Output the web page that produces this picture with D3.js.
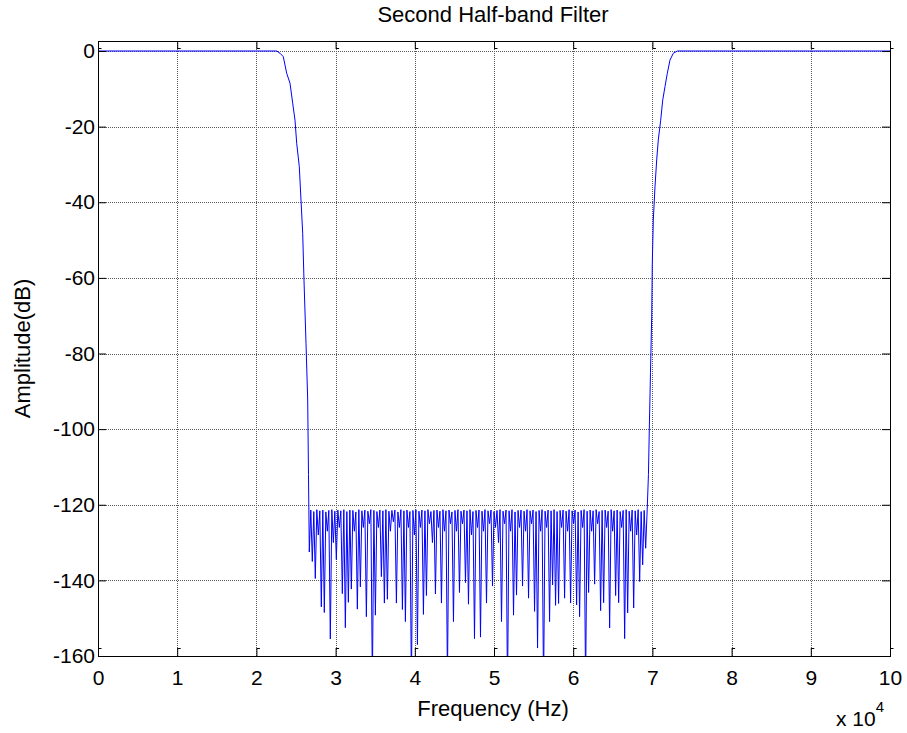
<!DOCTYPE html>
<html>
<head>
<meta charset="utf-8">
<script src="https://cdn.jsdelivr.net/npm/d3@7"></script>
<style>
  html, body { margin: 0; padding: 0; background: #fff; }
  svg { display: block; font-family: "Liberation Sans", Arial, Helvetica, sans-serif; }
</style>
</head>
<body>
<svg id="chart" width="907" height="733"></svg>
<script>
// ---------------- data ----------------
const titleText = "Second Half-band Filter";
const xLabelText = "Frequency (Hz)";
const yLabelText = "Amplitude(dB)";

const xTickValues = [0, 10000, 20000, 30000, 40000, 50000, 60000, 70000, 80000, 90000, 100000];
const xTickLabels = ["0", "1", "2", "3", "4", "5", "6", "7", "8", "9", "10"];
const yTickValues = [0, -20, -40, -60, -80, -100, -120, -140, -160];
const yTickLabels = ["0", "-20", "-40", "-60", "-80", "-100", "-120", "-140", "-160"];

// passband + falling transition (Hz, dB)
const leftHz = [0, 22563, 22980, 23396, 23826, 24242, 24583, 24874, 25088, 25417, 25631, 25846, 26010, 26263, 26477, 26578];
const leftDb = [0, 0, -0.6, -1.5, -5.9, -8.5, -13.8, -18.3, -24.4, -30.6, -39.4, -48.2, -60.6, -77.3, -92.3, -112.0];

// stopband samples on a uniform frequency grid
const stopStartHz = 26680;
const stopStepHz = 189.6;
const stopDb = [
  -132.5,-121.4, -135.0,-121.8, -139.5,-121.3, -128.0,-121.6, -147.0,-121.4, -148.5,-121.9, -127.0,-121.5, -155.5,-121.3, -130.0,-121.7, -134.5,-121.4,
  -126.0,-121.6, -143.5,-121.3, -152.5,-121.8, -145.8,-121.4, -142.3,-121.5, -127.0,-121.9, -147.6,-121.3, -141.7,-121.6, -126.0,-121.4, -149.6,-121.7,
  -125.0,-121.3, -168.0,-121.5, -149.2,-121.8, -126.0,-121.4, -139.0,-121.6, -146.0,-121.3, -145.0,-121.7, -127.0,-121.5, -124.5,-121.4, -146.0,-121.9,
  -126.0,-121.3, -147.7,-121.6, -150.9,-121.4, -126.0,-121.8, -168.0,-121.5, -128.0,-121.3, -157.0,-121.7, -126.0,-121.4, -149.0,-121.6, -144.0,-121.3,
  -125.0,-121.8, -130.0,-121.5, -143.6,-121.4, -126.0,-121.7, -146.0,-121.3, -127.0,-121.6, -166.0,-121.4, -125.0,-121.9, -150.9,-121.5, -127.0,-121.3,
  -143.2,-121.7, -125.0,-121.4, -140.6,-121.6, -146.3,-121.3, -128.0,-121.8, -155.4,-121.5, -126.0,-121.4, -155.0,-121.7, -127.0,-121.3, -146.0,-121.6,
  -125.0,-121.4, -141.5,-121.8, -126.0,-121.5, -130.0,-121.3, -150.9,-121.7, -125.0,-121.4, -170.0,-121.6, -127.0,-121.3, -149.2,-121.9, -143.9,-121.5,
  -126.0,-121.4, -141.5,-121.7, -127.0,-121.3, -144.7,-121.6, -125.0,-121.4, -148.2,-121.8, -157.9,-121.5, -127.0,-121.3, -169.0,-121.7, -126.0,-121.4,
  -150.9,-121.6, -141.2,-121.3, -146.6,-121.8, -146.1,-121.5, -126.0,-121.4, -144.7,-121.7, -127.0,-121.3, -146.0,-121.6, -125.0,-121.4, -146.5,-121.9,
  -149.6,-121.5, -126.0,-121.3, -168.0,-121.7, -143.2,-121.4, -127.0,-121.6, -141.0,-121.3, -125.0,-121.8, -148.0,-121.5, -145.9,-121.4, -126.0,-121.7,
  -152.6,-121.3, -127.0,-121.6, -144.0,-121.4, -145.9,-121.8, -126.0,-121.5, -155.4,-121.3, -148.6,-121.7, -127.0,-121.4, -147.3,-121.6, -128.0,-121.3,
  -140.3,-121.8, -135.9,-121.5, -131.5,-121.4
];

// rising transition + upper passband (Hz, dB)
const rightHz = [69500, 69609, 69760, 69912, 69987, 70114, 70328, 70543, 70745, 71048, 71301, 71591, 71881, 72222, 72639, 73144, 100000];
const rightDb = [-112.0, -100.0, -85.0, -70.3, -56.2, -44.7, -35.9, -28.8, -23.5, -18.3, -13.0, -9.4, -5.9, -2.4, -0.6, 0, 0];

// ---------------- layout ----------------
const plot = { left: 98, right: 890, top: 41, bottom: 656 };
const xDomain = [0, 100000];
const yDomain = [-160, 2.645];
const font = "\"Liberation Sans\", Arial, Helvetica, sans-serif";

const svg = d3.select("#chart");

const x = d3.scaleLinear().domain(xDomain).range([plot.left, plot.right]);
const y = d3.scaleLinear().domain(yDomain).range([plot.bottom, plot.top]);

// assemble series
const points = [];
leftHz.forEach((f, i) => points.push([f, leftDb[i]]));
stopDb.forEach((v, i) => points.push([stopStartHz + i * stopStepHz, v]));
rightHz.forEach((f, i) => points.push([f, rightDb[i]]));

// clip
svg.append("defs").append("clipPath").attr("id", "clip")
  .append("rect")
  .attr("x", plot.left).attr("y", plot.top)
  .attr("width", plot.right - plot.left).attr("height", plot.bottom - plot.top);

// grid
const grid = svg.append("g").attr("class", "grid");
grid.selectAll("line.gx").data(xTickValues.slice(1, -1)).join("line")
  .attr("class", "gx")
  .attr("x1", d => Math.round(x(d)) + 0.5).attr("x2", d => Math.round(x(d)) + 0.5)
  .attr("y1", plot.top).attr("y2", plot.bottom)
  .attr("stroke", "#5a5a5a").attr("stroke-width", 1).attr("stroke-dasharray", "1,1");
grid.selectAll("line.gy").data(yTickValues.filter(v => v !== -160)).join("line")
  .attr("class", "gy")
  .attr("y1", d => Math.round(y(d)) + 0.5).attr("y2", d => Math.round(y(d)) + 0.5)
  .attr("x1", plot.left).attr("x2", plot.right)
  .attr("stroke", "#5a5a5a").attr("stroke-width", 1).attr("stroke-dasharray", "1,1");

// data line
const line = d3.line().x(d => x(d[0])).y(d => y(d[1]));
svg.append("path")
  .datum(points)
  .attr("clip-path", "url(#clip)")
  .attr("fill", "none")
  .attr("stroke", "#0000ff")
  .attr("stroke-width", 1)
  .attr("d", line);

// axes (MATLAB style inward ticks)
const tickLen = 8;
const tickFont = "21px";
const xAxisB = d3.axisBottom(x).tickValues(xTickValues)
  .tickFormat((d, i) => xTickLabels[i]).tickSize(-tickLen).tickPadding(14);
const xAxisT = d3.axisTop(x).tickValues(xTickValues).tickFormat("").tickSize(-tickLen);
const yAxisL = d3.axisLeft(y).tickValues(yTickValues)
  .tickFormat((d, i) => yTickLabels[i]).tickSize(-tickLen).tickPadding(3);
const yAxisR = d3.axisRight(y).tickValues(yTickValues).tickFormat("").tickSize(-tickLen);

function styleAxis(g) {
  g.select(".domain").remove();
  g.selectAll(".tick line").attr("stroke", "#000").attr("stroke-width", 1);
  g.selectAll(".tick text").attr("fill", "#000").style("font-family", font).style("font-size", tickFont);
}
const gB = svg.append("g").attr("transform", `translate(0,${plot.bottom})`).call(xAxisB).call(styleAxis);
const gT = svg.append("g").attr("transform", `translate(0,${plot.top})`).call(xAxisT).call(styleAxis);
svg.append("g").attr("transform", `translate(${plot.left},0)`).call(yAxisL).call(styleAxis);
svg.append("g").attr("transform", `translate(${plot.right},0)`).call(yAxisR).call(styleAxis);

// small MATLAB-like stubs at the tips of the x ticks
gB.selectAll(".tick").append("line")
  .attr("x1", 0).attr("x2", 3).attr("y1", -tickLen + 0.5).attr("y2", -tickLen + 0.5)
  .attr("stroke", "#000").attr("stroke-width", 1);
gT.selectAll(".tick").append("line")
  .attr("x1", 0).attr("x2", 3).attr("y1", tickLen - 0.5).attr("y2", tickLen - 0.5)
  .attr("stroke", "#000").attr("stroke-width", 1);

// box
svg.append("rect")
  .attr("x", plot.left + 0.5).attr("y", plot.top + 0.5)
  .attr("width", plot.right - plot.left).attr("height", plot.bottom - plot.top)
  .attr("fill", "none").attr("stroke", "#000").attr("stroke-width", 1);

// title and labels
svg.append("text")
  .attr("x", (plot.left + plot.right) / 2 - 1).attr("y", 22)
  .attr("text-anchor", "middle")
  .style("font-family", font).style("font-size", "22px").attr("fill", "#000")
  .text(titleText);

svg.append("text")
  .attr("x", (plot.left + plot.right) / 2 - 1).attr("y", 716)
  .attr("text-anchor", "middle")
  .style("font-family", font).style("font-size", "22px").attr("fill", "#000")
  .text(xLabelText);

svg.append("text")
  .attr("transform", `translate(30,${(plot.top + plot.bottom) / 2}) rotate(-90)`)
  .attr("text-anchor", "middle")
  .style("font-family", font).style("font-size", "22px").attr("fill", "#000")
  .text(yLabelText);

// exponent label
const expo = svg.append("text")
  .attr("x", 836).attr("y", 726)
  .style("font-family", font).style("font-size", "21px").attr("fill", "#000");
expo.append("tspan").text("x 10");
expo.append("tspan").attr("dy", -14).style("font-size", "15px").text("4");
</script>
</body>
</html>
